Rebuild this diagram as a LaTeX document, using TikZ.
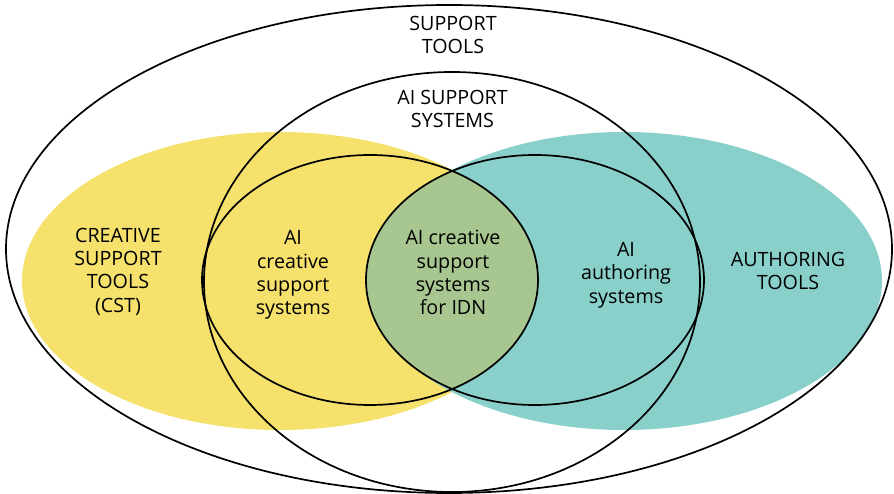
\documentclass[tikz,border=0pt]{standalone}
\usepackage{fontspec}
\setmainfont{Open Sans}
\definecolor{cstyellow}{RGB}{245,225,107}
\definecolor{authteal}{RGB}{137,208,203}
\definecolor{idngreen}{RGB}{168,198,143}
\begin{document}
\begin{tikzpicture}[x=1pt,y=-1pt,
  outline/.style={draw=black,line width=1.7pt},
  lbl/.style={align=center,anchor=base,inner sep=0pt,text=black,font=\fontsize{19.7}{23.4}\selectfont}]
\useasboundingbox[fill=white] (0,0) rectangle (894,494);
% coloured sets
\fill[cstyellow] (280,281) ellipse [x radius=258pt, y radius=149pt];
\fill[authteal] (624,281) ellipse [x radius=258pt, y radius=149pt];
\begin{scope}
  \clip (370,280) ellipse [x radius=168pt, y radius=125pt];
  \fill[idngreen] (535,280) ellipse [x radius=169pt, y radius=125pt];
\end{scope}
% outlines
\draw[outline] (449,249) ellipse [x radius=443pt, y radius=244pt];
\draw[outline] (452,282) ellipse [x radius=248pt, y radius=210pt];
\draw[outline] (370,280) ellipse [x radius=168pt, y radius=125pt];
\draw[outline] (535,280) ellipse [x radius=169pt, y radius=125pt];
% labels (anchor = baseline of the last line)
\node[lbl] (st)   at (453,54)     {SUPPORT\\TOOLS};
\node[lbl] (ais)  at (452.5,127.7) {AI SUPPORT\\SYSTEMS};
\node[lbl] (cst)  at (118,312.3)  {CREATIVE\\SUPPORT\\TOOLS\\(CST)};
\node[lbl] (aics) at (293,315)    {AI\\creative\\support\\systems};
\node[lbl] (idn)  at (453,315)    {AI creative\\support\\systems\\for IDN};
\node[lbl] (aia)  at (626,303)    {AI\\authoring\\systems};
\node[lbl] (at)   at (788,290)    {AUTHORING\\TOOLS};
\end{tikzpicture}
\end{document}
